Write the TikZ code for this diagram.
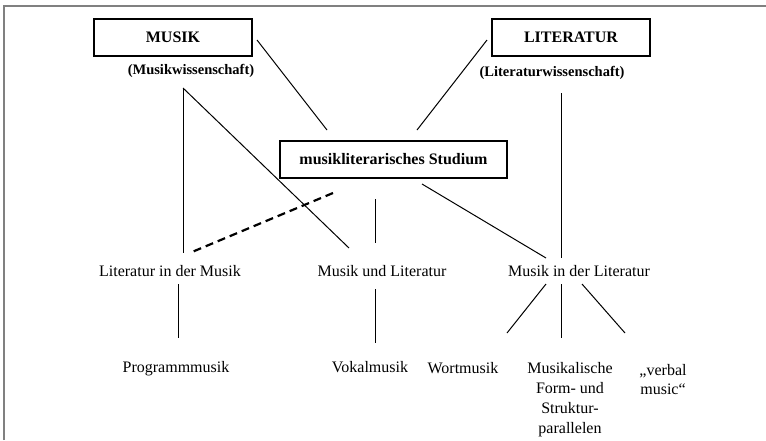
\documentclass[tikz,border=0pt]{standalone}
\usepackage{fontspec}
\setmainfont{Liberation Serif}
\tikzset{
  kasten/.style={draw, line width=2pt, minimum height=37pt, inner sep=0pt, font=\fontsize{16}{19}\selectfont\bfseries},
  unter/.style={inner sep=0pt, font=\fontsize{14.5}{17}\selectfont\bfseries},
  feld/.style={inner sep=0pt, text height=11pt, text depth=3pt, font=\fontsize{16}{19}\selectfont},
  block/.style={inner sep=0pt, align=center, anchor=north, font=\fontsize{16}{20}\selectfont},
  linie/.style={line width=1pt},
}
\begin{document}
\begin{tikzpicture}[x=1pt,y=1pt]
\useasboundingbox (0,0) rectangle (766,-440);
\draw[gray, line width=2pt] (3.5,-440) -- (3.5,-6) -- (766,-6);
% Kaesten
\node[kasten, minimum width=158pt] (musik) at (173,-37.5) {MUSIK};
\node[kasten, minimum width=158pt] (literatur) at (571,-37.5) {LITERATUR};
\node[kasten, minimum width=227pt] (studium) at (393.5,-159.5) {musikliterarisches Studium};
\node[unter] (musikw) at (191,-71) {(Musikwissenschaft)};
\node[unter] (literaturw) at (552,-73) {(Literaturwissenschaft)};
% mittlere Reihe
\node[feld] (litmusik) at (170,-272) {Literatur in der Musik};
\node[feld] (musiklit) at (382,-272) {Musik und Literatur};
\node[feld] (musikinlit) at (579,-272) {Musik in der Literatur};
% untere Reihe
\node[feld] (programm) at (176,-368) {Programmmusik};
\node[feld] (vokal) at (370,-368) {Vokalmusik};
\node[feld] (wort) at (463,-369) {Wortmusik};
\node[block] (form) at (570,-362) {Musikalische\\Form- und\\Struktur-\\parallelen};
\node[block, font=\fontsize{16}{19}\selectfont] (verbal) at (663,-364) {„verbal\\music“};
% Verbindungen
\draw[linie] ([shift={(4,-2.5)}]musik.east) -- ([shift={(-66.5,10)}]studium.north);
\draw[linie] ([shift={(-4,-2.5)}]literatur.west) -- ([shift={(23.5,10)}]studium.north);
\draw[linie] ([shift={(-8,-17)}]musikw.center) -- ([shift={(13,19)}]litmusik.center);
\draw[linie] ([shift={(-8,-17)}]musikw.center) -- ([shift={(-33,24)}]musiklit.center);
\draw[line width=2.2pt, dash pattern=on 8pt off 5pt] ([shift={(-60.5,-14)}]studium.south) -- ([shift={(22,20)}]litmusik.center);
\draw[linie] ([shift={(-18.5,-20)}]studium.south) -- ([shift={(-7,29)}]musiklit.center);
\draw[linie] ([shift={(28.5,-5)}]studium.south) -- ([shift={(-33,14)}]musikinlit.center);
\draw[linie] ([shift={(9,-20)}]literaturw.center) -- ([shift={(-18,14)}]musikinlit.center);
\draw[linie] ([shift={(8,-12)}]litmusik.center) -- ([shift={(2,30)}]programm.center);
\draw[linie] ([shift={(-7,-17)}]musiklit.center) -- ([shift={(5,25)}]vokal.center);
\draw[linie] ([shift={(-33,-12)}]musikinlit.center) -- ([shift={(44,36)}]wort.center);
\draw[linie] ([shift={(-18,-12)}]musikinlit.center) -- ([shift={(-9,24)}]form.north);
\draw[linie] ([shift={(3,-12)}]musikinlit.center) -- ([shift={(-38,31)}]verbal.north);
\end{tikzpicture}
\end{document}
